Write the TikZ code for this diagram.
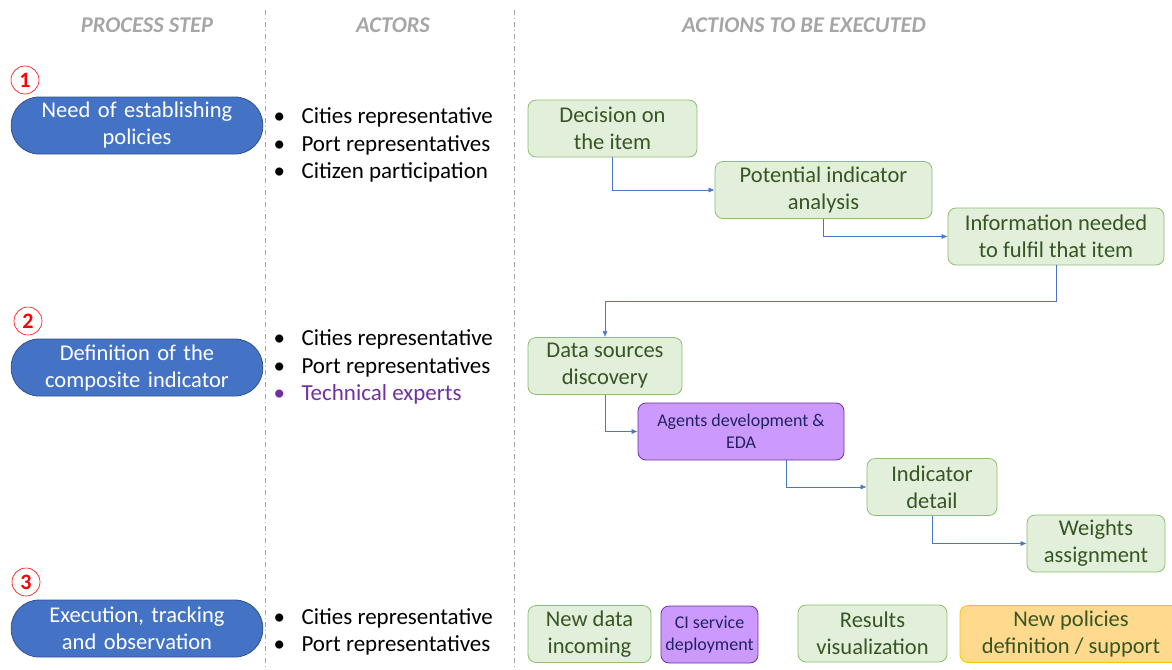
\documentclass[tikz,border=0pt]{standalone}
\usepackage{fontspec}
\setmainfont{Carlito}
\usetikzlibrary{arrows.meta}

\definecolor{pillblue}{HTML}{4472C4}
\definecolor{pillline}{HTML}{2F528F}
\definecolor{headgray}{HTML}{A6A6A6}
\definecolor{sepgray}{HTML}{A5A5A5}
\definecolor{boxgreen}{HTML}{E2EFDA}
\definecolor{linegreen}{HTML}{8CBF6E}
\definecolor{textgreen}{HTML}{375623}
\definecolor{boxpurple}{HTML}{CC99FF}
\definecolor{linepurple}{HTML}{7030A0}
\definecolor{textnavy}{HTML}{22235E}
\definecolor{boxorange}{HTML}{FFD98E}
\definecolor{lineorange}{HTML}{FFC000}
\definecolor{arrowblue}{HTML}{4A76C8}

\tikzset{
  header/.style={text=headgray, font=\fontsize{22.5}{24}\selectfont\bfseries\itshape},
  pill/.style={fill=pillblue, draw=pillline, line width=0.8pt, rounded corners=28pt,
    minimum width=250pt, minimum height=57pt, text width=245pt, align=center,
    text=white, font=\fontsize{22.5}{27}\selectfont},
  stepnum/.style={circle, draw=red, line width=0.6pt, minimum size=28pt, inner sep=0pt,
    text=red, font=\fontsize{22}{24}\selectfont\bfseries},
  actors/.style={anchor=west, align=left, font=\fontsize{23}{27.5}\selectfont},
  action/.style={rounded corners=8pt, line width=0.8pt, minimum height=57pt,
    align=center, inner sep=1pt, font=\fontsize{22.5}{27}\selectfont},
  greenbox/.style={action, fill=boxgreen, draw=linegreen, text=textgreen},
  purplebox/.style={action, fill=boxpurple, draw=linepurple, text=textnavy,
    font=\fontsize{18}{22}\selectfont},
  orangebox/.style={action, fill=boxorange, draw=lineorange, text=textgreen},
  flow/.style={draw=arrowblue, line width=0.6pt, -{Latex[length=6pt,width=5pt]}},
}
\newcommand{\bul}{\makebox[28pt][l]{\textbullet}}

\begin{document}
\begin{tikzpicture}[x=1pt, y=-1pt]
  \useasboundingbox (0,0) rectangle (1172,669);

  % column headers and separators
  \node[header] (hstep) at (147,25) {PROCESS STEP};
  \node[header] (hact) at (393,25) {ACTORS};
  \node[header] (hdo) at (804,25) {ACTIONS TO BE EXECUTED};
  \foreach \x in {265,514}{
    \draw[sepgray, line width=0.8pt, dash pattern=on 5pt off 3pt on 1pt off 3pt] (\x,10) -- (\x,669);
  }

  % process steps
  \node[pill] (step1) at (137,125.5) {Need of establishing\\policies};
  \node[pill] (step2) at (137,367.5) {Definition of the\\composite indicator};
  \node[pill] (step3) at (137,628.5) {Execution, tracking\\and observation};
  \foreach \n/\x/\y in {1/25/80, 2/28/321, 3/26/582}{
    \node[stepnum] (num\n) at (\x,\y) {\n};
  }

  % actors
  \node[actors] (act1) at (270,145) {\bul Cities representative\\\bul Port representatives\\\bul Citizen participation};
  \node[actors] (act2) at (270,367) {\bul Cities representative\\\bul Port representatives\\\textcolor{linepurple}{\bul Technical experts}};
  \node[actors] (act3) at (270,632) {\bul Cities representative\\\bul Port representatives};

  % actions, step 1
  \node[greenbox, minimum width=169pt] (decide) at (612.5,128.5) {Decision on\\the item};
  \node[greenbox, minimum width=217pt] (potential) at (823.5,190) {Potential indicator\\analysis};
  \node[greenbox, minimum width=216pt] (info) at (1056,236.5) {Information needed\\to fulfil that item};

  % actions, step 2
  \node[greenbox, minimum width=154pt] (sources) at (605,366) {Data sources\\discovery};
  \node[purplebox, minimum width=206pt] (agents) at (741,431.5) {Agents development \&\\EDA};
  \node[greenbox, minimum width=130pt] (detail) at (932,487) {Indicator\\detail};
  \node[greenbox, minimum width=138pt] (weights) at (1096,543.5) {Weights\\assignment};

  % actions, step 3
  \node[greenbox, minimum width=123pt] (newdata) at (589.5,634) {New data\\incoming};
  \node[purplebox, minimum width=97pt] (ciserv) at (709.5,634.5) {CI service\\deployment};
  \node[greenbox, minimum width=149pt] (results) at (872.5,633.5) {Results\\visualization};
  \node[orangebox, minimum width=222pt] (policies) at (1071,634) {New policies\\definition / support};

  % flow
  \draw[flow] (decide.south) |- (potential.west);
  \draw[flow] (potential.south) |- (info.west);
  \draw[flow] (info.south) -- ++(0,36) -| (sources.north);
  \draw[flow] (sources.south) |- (agents.west);
  \draw[flow] ([xshift=45pt]agents.south) |- (detail.west);
  \draw[flow] (detail.south) |- (weights.west);
\end{tikzpicture}
\end{document}
